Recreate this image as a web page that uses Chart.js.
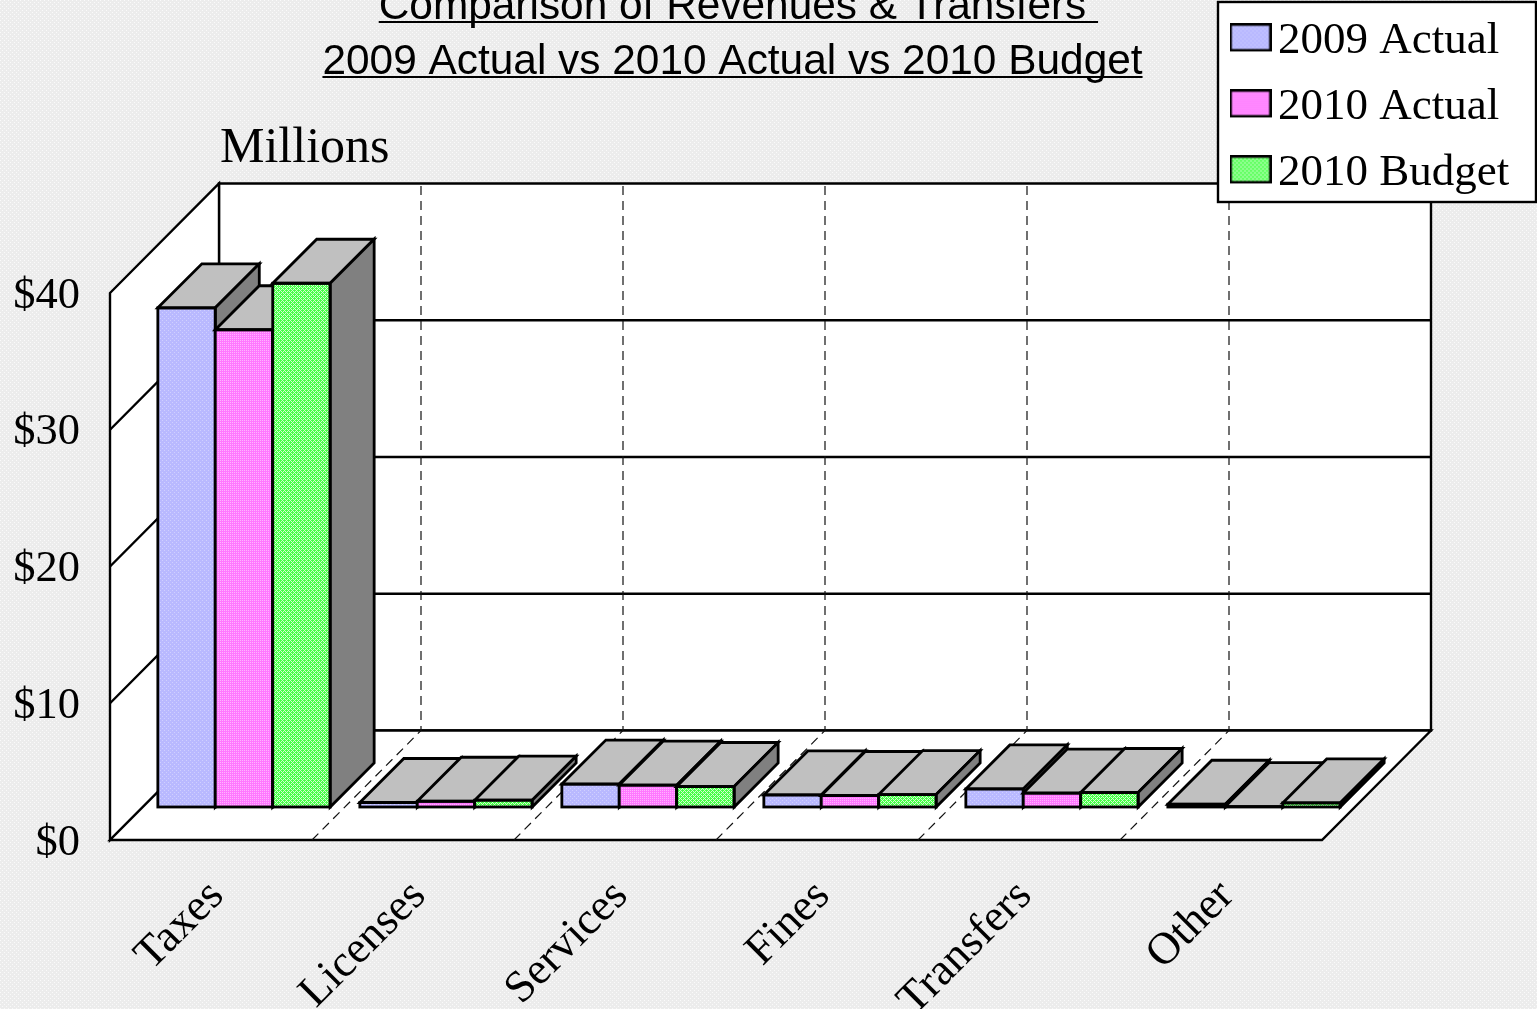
<!DOCTYPE html>
<html>
<head>
<meta charset="utf-8">
<title>Comparison of Revenues & Transfers</title>
<script src="https://cdn.jsdelivr.net/npm/chart.js@4"></script>
<style>
html, body { margin: 0; padding: 0; background: #eeeeee; overflow: hidden; }
canvas { display: block; }
</style>
</head>
<body>
<canvas id="myChart" width="1537" height="1009"></canvas>
<script>
const categories = ['Taxes', 'Licenses', 'Services', 'Fines', 'Transfers', 'Other'];
const actual2009 = [36.5, 0.33, 1.68, 0.88, 1.32, 0.2];
const actual2010 = [34.9, 0.42, 1.6, 0.84, 1.02, 0.03];
const budget2010 = [38.3, 0.5, 1.5, 0.91, 1.06, 0.3];
const seriesNames = ['2009 Actual', '2010 Actual', '2010 Budget'];
const yTicks = [0, 10, 20, 30, 40];
const titleLines = [' Comparison of Revenues & Transfers ', '2009 Actual vs 2010 Actual vs 2010 Budget'];

const SERIF = '"Liberation Serif", "Times New Roman", serif';
const SANS = '"Liberation Sans", Arial, sans-serif';
const TITLE_SIZE = 42.4;
const WALL_DEPTH_X = 109, WALL_DEPTH_Y = 109.5;
const BAR_SHIFT = 33, BAR_DEPTH = 44;
const LINE = 2.4, BAR_LINE = 2.8;

// small dither tiles, the original is a dithered 256 colour export
function tile(size, a, b, cells) {
    const c = document.createElement('canvas');
    c.width = c.height = size;
    const g = c.getContext('2d');
    g.fillStyle = a;
    g.fillRect(0, 0, size, size);
    g.fillStyle = b;
    cells.forEach(p => g.fillRect(p[0], p[1], 1, 1));
    return g.createPattern(c, 'repeat');
}
const bgFill = tile(4, '#ececec', '#fafafa', [[0, 0], [2, 2]]);
const blueFill = tile(4, '#b9b9ff', '#d0d0ff', [[1, 1], [3, 3]]);
const pinkFill = tile(4, '#ff78ff', '#ffb4ff', [[1, 1], [3, 1], [1, 3], [3, 3]]);
const greenFill = tile(4, '#48ff48', '#d0ffd0', [[0, 0], [1, 1], [2, 2], [3, 3], [2, 0], [0, 2]]);
const seriesFills = [blueFill, pinkFill, greenFill];

function legendSwatch(fill) {
    const c = document.createElement('canvas');
    c.width = 42;
    c.height = 36;
    const g = c.getContext('2d');
    g.fillStyle = fill;
    g.fillRect(1, 1, 40, 26);
    g.strokeStyle = '#000';
    g.lineWidth = LINE;
    g.strokeRect(1.2, 1.2, 39.6, 25.6);
    return c;
}
const swatches = seriesFills.map(legendSwatch);

function poly(ctx, pts, fill) {
    ctx.beginPath();
    pts.forEach((p, i) => i ? ctx.lineTo(p[0], p[1]) : ctx.moveTo(p[0], p[1]));
    ctx.closePath();
    if (fill) {
        ctx.fillStyle = fill;
        ctx.fill();
    }
    ctx.stroke();
}

const chart3d = {
    id: 'chart3d',
    afterLayout(chart) {
        // title is centred a bit right of the plot, legend box hangs in the corner
        const t = chart.titleBlock;
        t.left = 732.5 - 768.5;
        t.right = t.left + 1537;
        const l = chart.legend;
        l.left = 1224.5;
        l.top = -7.6;
        l.right = l.left + 312;
        l.bottom = l.top + 230;
    },
    beforeDraw(chart) {
        const ctx = chart.ctx;
        const x = chart.scales.x, y = chart.scales.y;
        const dx = WALL_DEPTH_X, dy = WALL_DEPTH_Y;
        const left = x.left, right = x.right;
        const y0 = y.getPixelForValue(0), yTop = y.getPixelForValue(yTicks[yTicks.length - 1]);

        ctx.save();
        ctx.fillStyle = bgFill;
        ctx.fillRect(0, 0, chart.width, chart.height);

        ctx.strokeStyle = '#000';
        ctx.lineWidth = LINE;
        ctx.lineJoin = 'miter';
        poly(ctx, [[left + dx, yTop - dy], [right + dx, yTop - dy], [right + dx, y0 - dy], [left + dx, y0 - dy]], '#fff');
        poly(ctx, [[left, yTop], [left + dx, yTop - dy], [left + dx, y0 - dy], [left, y0]], '#fff');
        poly(ctx, [[left, y0], [left + dx, y0 - dy], [right + dx, y0 - dy], [right, y0]], '#fff');

        // value grid, wraps from the side wall on to the back wall
        yTicks.slice(1, -1).forEach(v => {
            const py = y.getPixelForValue(v);
            ctx.beginPath();
            ctx.moveTo(left, py);
            ctx.lineTo(left + dx, py - dy);
            ctx.lineTo(right + dx, py - dy);
            ctx.stroke();
        });

        // category separators, dashed over the floor and the back wall
        ctx.lineWidth = 1.2;
        ctx.strokeStyle = '#111';
        ctx.setLineDash([9, 6]);
        const band = (right - left) / categories.length;
        categories.forEach((c, i) => {
            if (i === 0) return;
            const px = x.getPixelForValue(i) - band / 2;
            ctx.beginPath();
            ctx.moveTo(px, y0);
            ctx.lineTo(px + dx, y0 - dy);
            ctx.lineTo(px + dx, yTop - dy);
            ctx.stroke();
        });
        ctx.setLineDash([]);

        // legend frame
        ctx.fillStyle = '#fff';
        ctx.strokeStyle = '#000';
        ctx.lineWidth = LINE;
        ctx.fillRect(1218, 2, 318, 200);
        ctx.strokeRect(1218, 2, 318, 200);

        ctx.fillStyle = '#000';
        ctx.font = '50px ' + SERIF;
        ctx.textBaseline = 'alphabetic';
        ctx.textAlign = 'left';
        ctx.fillText('Millions', 220, 162);
        ctx.restore();
    },
    beforeDatasetsDraw(chart) {
        // left to right so each bar's top covers the side of its left neighbour,
        // chart.js would paint the datasets the other way round
        const ctx = chart.ctx;
        const d = BAR_DEPTH;
        chart.data.datasets.forEach((ds, i) => {
            const meta = chart.getDatasetMeta(i);
            ctx.save();
            ctx.translate(BAR_SHIFT, -BAR_SHIFT);
            meta.controller.draw();
            ctx.strokeStyle = '#000';
            ctx.lineWidth = BAR_LINE;
            meta.data.forEach(bar => {
                const x0 = bar.x - bar.width / 2, x1 = bar.x + bar.width / 2;
                const yt = bar.y, yb = bar.base;
                poly(ctx, [[x0, yt], [x0 + d, yt - d], [x1 + d, yt - d], [x1, yt]], '#c0c0c0');
                poly(ctx, [[x1, yt], [x1 + d, yt - d], [x1 + d, yb - d], [x1, yb]], '#808080');
                ctx.strokeRect(x0, yt, bar.width, yb - yt);
            });
            ctx.restore();
        });
        return false;
    },
    afterDraw(chart) {
        // underlines of the title, the title plugin has none
        const ctx = chart.ctx;
        const t = chart.titleBlock;
        const cx = (t.left + t.right) / 2;
        ctx.save();
        ctx.font = TITLE_SIZE + 'px ' + SANS;
        ctx.fillStyle = '#000';
        titleLines.forEach((line, i) => {
            const w = ctx.measureText(line).width;
            const lead = line.startsWith(' ') ? ctx.measureText(' ').width : 0;
            ctx.fillRect(cx - w / 2 + lead, 21 + i * 55, w - lead, 2);
        });
        ctx.restore();
    }
};

const data = {
    labels: categories,
    datasets: [actual2009, actual2010, budget2010].map((values, i) => ({
        label: seriesNames[i],
        data: values,
        backgroundColor: seriesFills[i],
        borderWidth: 0
    }))
};

const config = {
    type: 'bar',
    data,
    plugins: [chart3d],
    options: {
        responsive: false,
        animation: false,
        devicePixelRatio: 1,
        layout: {
            padding: { left: 0, right: 215, top: 0, bottom: 0 }
        },
        datasets: {
            bar: { categoryPercentage: 0.853, barPercentage: 1 }
        },
        scales: {
            x: {
                border: { display: false },
                grid: { display: false },
                ticks: {
                    color: '#000',
                    font: { family: SERIF, size: 45 },
                    autoSkip: false,
                    minRotation: 45,
                    maxRotation: 45,
                    padding: 22,
                    labelOffset: 6
                },
                afterFit(s) {
                    s.height = 169;
                    s.paddingLeft = 0;
                    s.paddingRight = 0;
                }
            },
            y: {
                min: 0,
                max: 40,
                border: { display: false },
                grid: { display: false, drawTicks: false },
                ticks: {
                    color: '#000',
                    font: { family: SERIF, size: 44.5 },
                    stepSize: 10,
                    padding: 30,
                    labelOffset: 3,
                    callback: v => '$' + v
                },
                afterFit(s) {
                    s.width = 110;
                    s.paddingTop = 0;
                    s.paddingBottom = 0;
                }
            }
        },
        plugins: {
            tooltip: { enabled: false },
            title: {
                display: true,
                text: titleLines,
                color: '#000',
                font: { family: SANS, size: TITLE_SIZE, weight: 'normal', lineHeight: 55 / TITLE_SIZE },
                padding: { top: -20.2, bottom: 203.2 }
            },
            legend: {
                position: 'chartArea',
                labels: {
                    color: '#000',
                    font: { family: SERIF, size: 45 },
                    usePointStyle: true,
                    pointStyleWidth: 10,
                    padding: 21,
                    generateLabels(chart) {
                        return Chart.defaults.plugins.legend.labels.generateLabels(chart).map((item, i) => {
                            item.pointStyle = swatches[i];
                            return item;
                        });
                    }
                }
            }
        }
    }
};

var myChart = new Chart(document.getElementById('myChart'), config);
</script>
</body>
</html>
